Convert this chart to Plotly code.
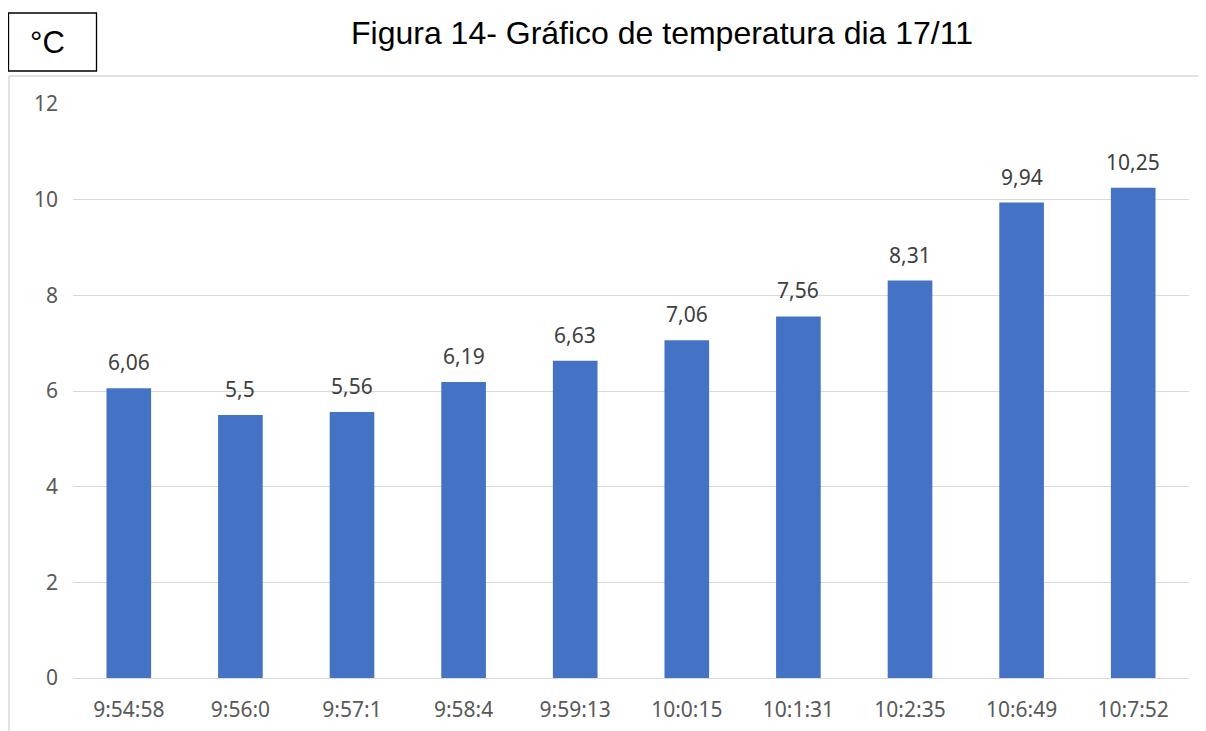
import plotly.graph_objects as go

categories = ["9:54:58", "9:56:0", "9:57:1", "9:58:4", "9:59:13",
              "10:0:15", "10:1:31", "10:2:35", "10:6:49", "10:7:52"]
temperatures = [6.06, 5.5, 5.56, 6.19, 6.63, 7.06, 7.56, 8.31, 9.94, 10.25]
y_ticks = [0, 2, 4, 6, 8, 10, 12]
title_text = "Figura 14- Gráfico de temperatura dia 17/11"
unit_text = "°C"

labels = [f"{v:g}".replace(".", ",") for v in temperatures]

OFF = 8  # page body margin
W, H = 1206 - OFF, 731 - OFF
# plot area in page pixels: x 73..1189, y 104..678
L, T = 73 - OFF, 104 - OFF
R = W - (1189 - OFF)
B = H - (678 - OFF)
pw, ph = W - L - R, H - T - B

def px_x(x):
    return (x - OFF - L) / pw

def px_y(y):
    return (H - B - (y - OFF)) / ph

fig = go.Figure()
fig.add_trace(go.Bar(
    x=categories, y=temperatures,
    marker=dict(color="#4472C4", line=dict(width=0)),
    hoverinfo="x+y",
))

for c, v, t in zip(categories, temperatures, labels):
    fig.add_annotation(x=c, y=v, text=t, showarrow=False, yanchor="bottom",
                       yshift=10, font=dict(family="Noto Sans", size=21, color="#404040"))

# title
fig.add_annotation(xref="paper", yref="paper", x=px_x(662), y=px_y(33),
                   text=title_text, showarrow=False, xanchor="center", yanchor="middle",
                   font=dict(family="Liberation Sans", size=32, color="#000000"))
# unit box
fig.add_shape(type="rect", xref="paper", yref="paper",
              x0=px_x(8.5), x1=px_x(96.5), y0=px_y(71), y1=px_y(13),
              line=dict(color="#000000", width=1.3), fillcolor="white", layer="above")
fig.add_annotation(xref="paper", yref="paper", x=px_x(47), y=px_y(42),
                   text=unit_text, showarrow=False, xanchor="center", yanchor="middle",
                   font=dict(family="Liberation Sans", size=31, color="#000000"))
# outer chart border (left and top)
fig.add_shape(type="line", xref="paper", yref="paper",
              x0=px_x(9), x1=px_x(9), y0=px_y(76), y1=px_y(H + 40),
              line=dict(color="#D9D9D9", width=1.5))
fig.add_shape(type="line", xref="paper", yref="paper",
              x0=px_x(9), x1=px_x(W + 40), y0=px_y(76), y1=px_y(76),
              line=dict(color="#D9D9D9", width=1.5))

fig.update_layout(
    width=W, height=H,
    margin=dict(l=L, r=R, t=T, b=B),
    plot_bgcolor="white", paper_bgcolor="white",
    bargap=0.6,
    showlegend=False,
    xaxis=dict(showgrid=False, showline=True, linecolor="#D9D9D9", linewidth=1,
               ticks="", ticklabelstandoff=13, automargin=False,
               tickfont=dict(family="Noto Sans", size=21, color="#595959"),
               fixedrange=True),
    yaxis=dict(range=[0, 12], tickvals=y_ticks, showgrid=True, gridcolor="#D9D9D9",
               gridwidth=1, zeroline=False, showline=False, ticks="",
               ticklabelstandoff=14, automargin=False,
               tickfont=dict(family="Noto Sans", size=21, color="#595959"),
               fixedrange=True),
)

fig.write_html("out.html")
